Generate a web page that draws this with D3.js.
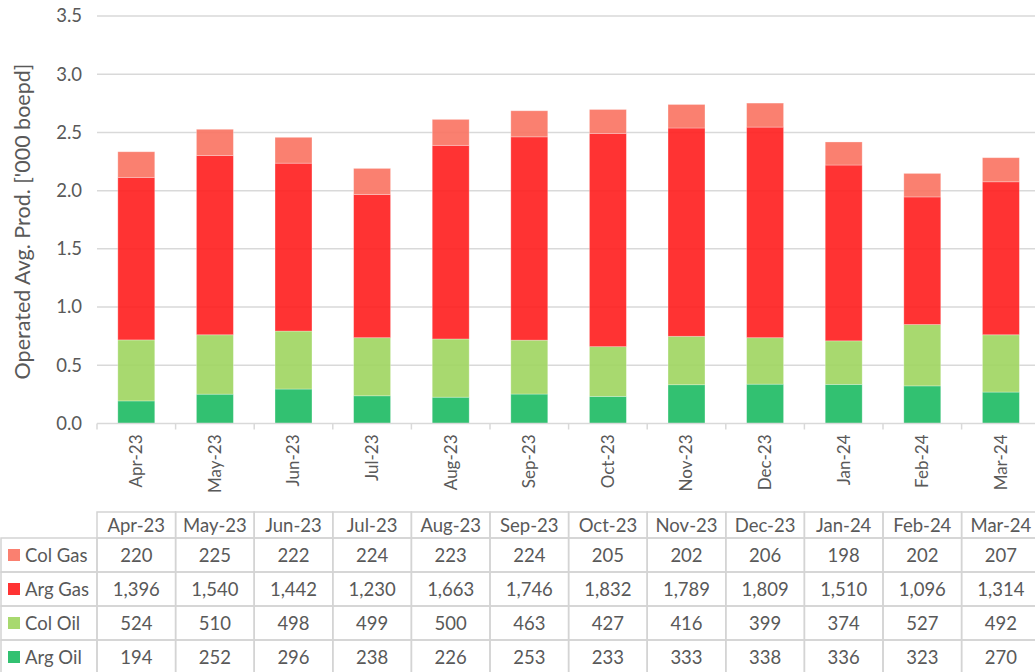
<!DOCTYPE html>
<html>
<head>
<meta charset="utf-8">
<script src="https://cdn.jsdelivr.net/npm/d3@7"></script>
<style>
  html, body { margin: 0; padding: 0; background: #fff; }
  svg { display: block; font-family: Lato, "Open Sans", sans-serif; }
</style>
</head>
<body>
<svg id="chart" width="1035" height="672"></svg>
<script>
const categories = ["Apr-23","May-23","Jun-23","Jul-23","Aug-23","Sep-23","Oct-23","Nov-23","Dec-23","Jan-24","Feb-24","Mar-24"];
const colGas = [220,225,222,224,223,224,205,202,206,198,202,207];
const argGas = [1396,1540,1442,1230,1663,1746,1832,1789,1809,1510,1096,1314];
const colOil = [524,510,498,499,500,463,427,416,399,374,527,492];
const argOil = [194,252,296,238,226,253,233,333,338,336,323,270];
const yTicks = [0,500,1000,1500,2000,2500,3000,3500];
const yTitle = "Operated Avg. Prod. ['000 boepd]";

// series: stack order bottom -> top
const seriesNames = ["Arg Oil","Col Oil","Arg Gas","Col Gas"];
const seriesValues = [argOil, colOil, argGas, colGas];
const seriesColors = ["#1cba62","#9fd55f","#ff1d1d","#f97260"];
// table row order
const tableOrder = ["Col Gas","Arg Gas","Col Oil","Arg Oil"];

const svg = d3.select("#chart");
const textColor = "#595959";
const gridColor = "#d9d9d9";

const plotLeft = 97, step = 78.6, plotTop = 16, plotBottom = 423.5;
const x = d3.scaleBand().domain(categories).range([plotLeft, plotLeft + step * categories.length]).padding(0);
const y = d3.scaleLinear().domain([0, 3500]).range([plotBottom, plotTop]);

// gridlines
svg.append("g").selectAll("line").data(yTicks.filter(t => t > 0)).join("line")
  .attr("x1", plotLeft).attr("x2", 1035)
  .attr("y1", d => y(d)).attr("y2", d => y(d))
  .attr("stroke", gridColor).attr("stroke-width", 1.5);

// y axis labels
const yAxis = d3.axisLeft(y).tickValues(yTicks).tickFormat(d => d3.format(".1f")(d / 1000)).tickSize(0).tickPadding(15);
const yg = svg.append("g").attr("transform", `translate(${plotLeft},0)`).call(yAxis);
yg.select(".domain").remove();
yg.selectAll("text").attr("fill", textColor).style("font-size", "18.5px").style("font-family", "Lato, sans-serif");

// y title
svg.append("text")
  .attr("transform", `translate(22,${(62 + 381) / 2}) rotate(-90)`)
  .attr("text-anchor", "middle")
  .attr("dy", "0.35em")
  .attr("fill", textColor)
  .style("font-size", "21.5px")
  .text(yTitle);

// stacked data
const rows = categories.map((c, i) => {
  const o = { cat: c };
  seriesNames.forEach((s, j) => o[s] = seriesValues[j][i]);
  return o;
});
const stacked = d3.stack().keys(seriesNames)(rows);
const color = d3.scaleOrdinal().domain(seriesNames).range(seriesColors);

const barFrac = 0.47;
const bw = x.bandwidth() * barFrac;
svg.append("g").selectAll("g").data(stacked).join("g")
  .attr("fill", d => color(d.key))
  .attr("fill-opacity", 0.9)
  .selectAll("rect").data(d => d).join("rect")
  .attr("x", d => x(d.data.cat) + (x.bandwidth() - bw) / 2)
  .attr("width", bw)
  .attr("y", d => y(d[1]))
  .attr("height", d => y(d[0]) - y(d[1]))
  .attr("stroke", "#ffffff").attr("stroke-opacity", 0.35).attr("stroke-width", 0.8);

// x axis line and ticks at boundaries
svg.append("line").attr("x1", plotLeft).attr("x2", 1035).attr("y1", plotBottom).attr("y2", plotBottom)
  .attr("stroke", gridColor).attr("stroke-width", 1.5);
svg.append("g").selectAll("line").data(categories).join("line")
  .attr("x1", d => x(d)).attr("x2", d => x(d))
  .attr("y1", plotBottom).attr("y2", plotBottom + 6)
  .attr("stroke", gridColor).attr("stroke-width", 1.5);

// x labels rotated
const xAxis = d3.axisBottom(x).tickSize(0).tickPadding(0);
const xg = svg.append("g").attr("transform", `translate(0,${plotBottom})`).call(xAxis);
xg.select(".domain").remove();
xg.selectAll("text")
  .attr("fill", textColor)
  .style("font-size", "17px")
  .style("font-family", "Lato, sans-serif")
  .attr("text-anchor", "end")
  .attr("dy", "0.35em")
  .attr("transform", "translate(0,11) rotate(-90)")
  .attr("x", 0).attr("y", 0);

// data table
const tableTop = 512, headerH = 26, rowH = 34;
const tbl = svg.append("g");
const borderColor = "#d4d4d4";
categories.forEach(c => {
  tbl.append("rect").attr("x", x(c)).attr("y", tableTop).attr("width", x.bandwidth()).attr("height", headerH)
    .attr("fill", "none").attr("stroke", borderColor).attr("stroke-width", 1.5);
  tbl.append("text").attr("x", x(c) + x.bandwidth() / 2).attr("y", tableTop + headerH / 2)
    .attr("dy", "0.36em").attr("text-anchor", "middle").attr("fill", textColor)
    .style("font-size", "18.5px").text(c);
});
tableOrder.forEach((s, r) => {
  const ry = tableTop + headerH + r * rowH;
  const vals = seriesValues[seriesNames.indexOf(s)];
  tbl.append("rect").attr("x", 1).attr("y", ry).attr("width", plotLeft - 1).attr("height", rowH)
    .attr("fill", "none").attr("stroke", borderColor).attr("stroke-width", 1.5);
  tbl.append("rect").attr("x", 8).attr("y", ry + rowH / 2 - 6).attr("width", 12).attr("height", 12)
    .attr("fill", color(s)).attr("fill-opacity", 0.9);
  tbl.append("text").attr("x", 25).attr("y", ry + rowH / 2).attr("dy", "0.36em")
    .attr("fill", textColor).style("font-size", "18.5px").text(s);
  categories.forEach((c, i) => {
    tbl.append("rect").attr("x", x(c)).attr("y", ry).attr("width", x.bandwidth()).attr("height", rowH)
      .attr("fill", "none").attr("stroke", borderColor).attr("stroke-width", 1.5);
    tbl.append("text").attr("x", x(c) + x.bandwidth() / 2).attr("y", ry + rowH / 2)
      .attr("dy", "0.36em").attr("text-anchor", "middle").attr("fill", textColor)
      .style("font-size", "18.5px").text(d3.format(",")(vals[i]));
  });
});
</script>
</body>
</html>
